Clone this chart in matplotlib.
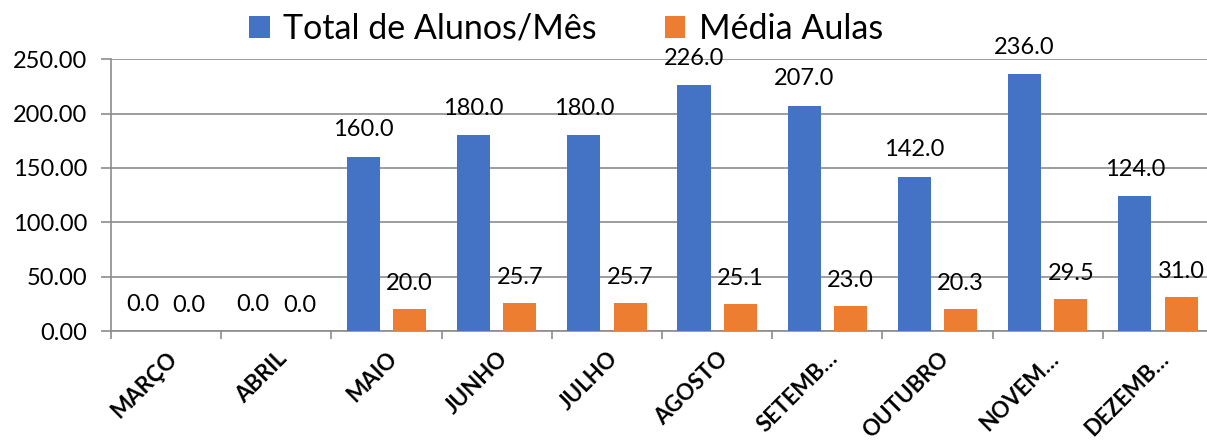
import numpy as np
import matplotlib
matplotlib.use("Agg")
import matplotlib.pyplot as plt

# dados
meses = ["MARÇO", "ABRIL", "MAIO", "JUNHO", "JULHO", "AGOSTO",
         "SETEMB…", "OUTUBRO", "NOVEM…", "DEZEMB…"]
total_alunos = [0, 0, 160, 180, 180, 226, 207, 142, 236, 124]
media_aulas = [0, 0, 20.0, 25.7, 25.7, 25.1, 23.0, 20.3, 29.5, 31.0]

azul = "#4472C4"
laranja = "#ED7D31"
cinza = "#8c8c8c"

plt.rcParams['font.family'] = ['Lato', 'DejaVu Sans']

fig = plt.figure(figsize=(12.07, 4.41), dpi=100)
ax = fig.add_axes([0.092, 0.249, 0.913, 0.617])

x = np.arange(len(meses))
w = 0.3
b1 = ax.bar(x - 0.21, total_alunos, w, color=azul, label="Total de Alunos/Mês", zorder=3)
b2 = ax.bar(x + 0.21, media_aulas, w, color=laranja, label="Média Aulas", zorder=3)

ax.bar_label(b1, fmt="%.1f", padding=12, fontsize=17)
ax.bar_label(b2, fmt="%.1f", padding=11, fontsize=17)

ax.set_xlim(-0.5, len(meses) - 0.5)
ax.set_ylim(0, 250)
ax.set_yticks([0, 50, 100, 150, 200, 250])
ax.set_yticklabels([f"{v:.2f}" for v in [0, 50, 100, 150, 200, 250]], fontsize=17)
ax.yaxis.grid(True, color=cinza, lw=1.2, zorder=0)
ax.tick_params(axis='y', length=7, color=cinza, width=1.2, pad=10)

# ticks nas divisas das categorias
ax.set_xticks(np.arange(-0.5, len(meses) + 0.5, 1))
ax.set_xticklabels([])
ax.tick_params(axis='x', length=6, color=cinza, width=1.2)
ax.set_xticks(x, minor=True)
ax.set_xticklabels(meses, minor=True, rotation=45, ha='right', rotation_mode='anchor',
                   fontsize=16, fontweight='bold')
ax.tick_params(axis='x', which='minor', length=0, pad=12)

for s in ['top', 'right']:
    ax.spines[s].set_visible(False)
for s in ['left', 'bottom']:
    ax.spines[s].set_color(cinza)
    ax.spines[s].set_linewidth(1.2)

fig.legend(loc='upper center', bbox_to_anchor=(0.469, 1.04), ncol=2, frameon=False,
           fontsize=24.5, handlelength=0.6, handleheight=0.6, handletextpad=0.4,
           columnspacing=2.0)

fig.savefig("out.png", dpi=100)
